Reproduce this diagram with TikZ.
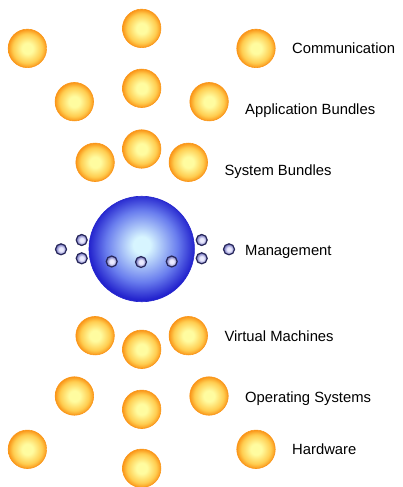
\documentclass[tikz,border=0pt]{standalone}
\usepackage{fontspec}
\setmainfont{Liberation Sans}
\usetikzlibrary{positioning}
\definecolor{ballCore}{RGB}{255,252,160}
\definecolor{ballMid}{RGB}{255,205,80}
\definecolor{ballRim}{RGB}{250,150,25}
\definecolor{sphereCore}{RGB}{215,245,255}
\definecolor{sphereMid}{RGB}{105,125,238}
\definecolor{sphereRim}{RGB}{35,35,205}
\definecolor{beadCore}{RGB}{235,235,255}
\definecolor{beadRim}{RGB}{105,105,185}
\definecolor{beadLine}{RGB}{40,40,90}
\pgfdeclareradialshading{orangeBall}{\pgfpoint{0bp}{0bp}}{color(0bp)=(ballCore); color(7bp)=(ballCore); color(19bp)=(ballMid); color(25bp)=(ballRim); color(50bp)=(ballRim)}
\pgfdeclareradialshading{blueSphere}{\pgfpoint{0bp}{2bp}}{color(0bp)=(sphereCore); color(4bp)=(sphereCore); color(17bp)=(sphereMid); color(25bp)=(sphereRim); color(50bp)=(sphereRim)}
\pgfdeclareradialshading{beadShade}{\pgfpoint{0bp}{0bp}}{color(0bp)=(beadCore); color(9bp)=(beadCore); color(25bp)=(beadRim); color(50bp)=(beadRim)}
\tikzstyle{pixelGrid} = [x=1pt, y=-1pt]
\tikzstyle{layerBall} = [circle, inner sep=0pt, minimum size=38.5pt, shading=orangeBall, draw=ballRim, line width=0.6pt]
\tikzstyle{coreSphere} = [circle, inner sep=0pt, minimum size=105.5pt, shading=blueSphere, draw=sphereRim, line width=0.6pt]
\tikzstyle{bead} = [circle, inner sep=0pt, minimum size=11pt, shading=beadShade, draw=beadLine, line width=1.2pt]
\tikzstyle{layerLabel} = [anchor=base west, inner sep=0pt, font=\fontsize{14.8}{17}\selectfont]
\newcommand{\midX}{141.7}
% one layer: name, side offset, side y, centre y
\newcommand{\ballRow}[4]{
  \node [layerBall] (#1Left) at (\midX - #2, #3) {};
  \node [layerBall] (#1Mid) at (\midX, #4) {};
  \node [layerBall] (#1Right) at (\midX + #2, #3) {};
}
\begin{document}
\begin{tikzpicture}[pixelGrid]
  \useasboundingbox (0,0) rectangle (402,487);
  \ballRow{comm}{114.3}{48.4}{28.4}
  \ballRow{app}{67.4}{101.7}{88.3}
  \ballRow{sys}{46.6}{162.3}{149}
  \ballRow{virt}{46.6}{335.7}{349.3}
  \ballRow{os}{67.3}{396}{409.3}
  \ballRow{hw}{114.3}{449.3}{468.3}

  \node [coreSphere] (core) at (\midX, 249) {};
  \foreach \bx/\by [count=\i] in {61/249.3, 81.7/240, 81.7/258.3, 111.7/261.5, 141/262, 171.7/261.5, 201.7/240, 201.7/258.3, 229/249.3}
    \node [bead] (bead\i) at (\bx, \by) {};

  \node [layerLabel] (commText) at (292, 53.3) {Communication};
  \node [layerLabel] (appText) at (245, 114) {Application Bundles};
  \node [layerLabel] (sysText) at (224.3, 175) {System Bundles};
  \node [layerLabel] (mgmtText) at (245, 255) {Management};
  \node [layerLabel] (virtText) at (224.3, 341.5) {Virtual Machines};
  \node [layerLabel] (osText) at (245, 402) {Operating Systems};
  \node [layerLabel] (hwText) at (292, 454.5) {Hardware};
\end{tikzpicture}
\end{document}
